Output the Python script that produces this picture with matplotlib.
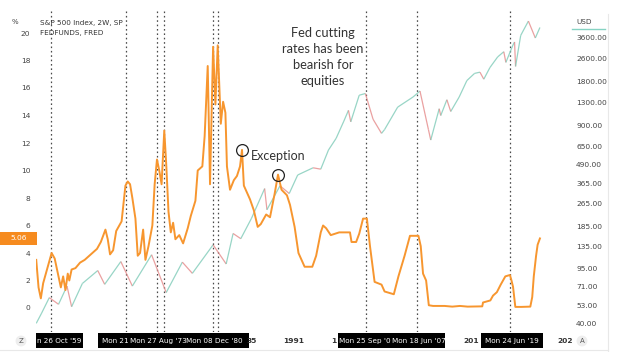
import matplotlib
matplotlib.use("Agg")
import matplotlib.pyplot as plt
from matplotlib.collections import LineCollection
from matplotlib.patches import Rectangle
from matplotlib.lines import Line2D

# ---------------- data ----------------
fed_years = [1957.9, 1958.2, 1958.5, 1958.8, 1959.3, 1959.9, 1960.3, 1960.8, 1961.1, 1961.4,
             1961.7, 1962.0, 1962.2, 1962.5, 1963.0, 1963.6, 1964.2, 1965.0, 1965.8, 1966.3,
             1966.9, 1967.2, 1967.5, 1967.9, 1968.3, 1968.7, 1969.0, 1969.5, 1969.8, 1970.1,
             1970.4, 1970.8, 1971.1, 1971.4, 1971.8, 1972.1, 1972.5, 1973.0, 1973.3, 1973.6,
             1973.9, 1974.2, 1974.55, 1974.8, 1975.1, 1975.4, 1975.7, 1976.0, 1976.5, 1977.0,
             1977.6, 1978.0, 1978.6, 1978.9, 1979.5, 1979.8, 1979.9, 1980.2, 1980.5, 1980.9,
             1981.2, 1981.5, 1981.9, 1982.2, 1982.5, 1982.7, 1983.1, 1983.6, 1984.0, 1984.4,
             1984.66, 1984.9, 1985.3, 1985.7, 1986.2, 1986.7, 1987.1, 1987.8, 1988.3, 1988.9,
             1989.34, 1989.8, 1990.5, 1990.9, 1991.5, 1992.0, 1992.8, 1993.8, 1994.3, 1994.9,
             1995.2, 1995.6, 1996.2, 1997.3, 1998.7, 1998.9, 1999.5, 1999.9, 2000.4, 2000.9,
             2001.3, 2001.9, 2002.8, 2003.2, 2004.4, 2005.0, 2005.8, 2006.5, 2007.6, 2007.9,
             2008.2, 2008.6, 2008.95, 2009.5, 2011.0, 2012.0, 2013.0, 2014.0, 2015.9, 2016.0,
             2016.95, 2017.3, 2017.8, 2018.3, 2018.9, 2019.5, 2019.7, 2019.9, 2020.2, 2021.0,
             2022.15, 2022.4, 2022.6, 2022.9, 2023.1, 2023.4]
fed_rate = [3.5, 1.5, 0.7, 1.8, 2.8, 4.0, 3.6, 2.3, 1.5, 2.3,
            1.3, 2.5, 2.0, 2.8, 2.9, 3.3, 3.5, 3.9, 4.3, 4.8,
            5.7, 5.0, 3.9, 4.2, 5.6, 6.0, 6.3, 8.9, 9.2, 9.0,
            8.0, 6.5, 3.8, 4.0, 5.7, 3.5, 4.5, 6.0, 9.0, 10.8,
            10.0, 9.0, 12.9, 10.5, 7.0, 5.5, 6.2, 5.0, 5.3, 4.7,
            5.8, 6.7, 7.8, 10.0, 10.3, 12.5, 13.8, 17.6, 9.0, 19.0,
            14.8, 19.1, 13.4, 15.0, 14.2, 10.3, 8.6, 9.3, 9.6, 10.3,
            11.5, 8.9, 8.4, 7.9, 7.1, 5.9, 6.1, 6.8, 6.6, 8.3,
            9.7, 8.6, 8.2, 7.5, 5.9, 4.0, 3.0, 3.0, 3.8, 5.5,
            6.0, 5.8, 5.3, 5.5, 5.5, 4.8, 4.8, 5.4, 6.5, 6.5,
            4.5, 1.9, 1.7, 1.2, 1.0, 2.3, 3.8, 5.25, 5.25, 4.5,
            2.5, 2.0, 0.2, 0.15, 0.15, 0.1, 0.15, 0.1, 0.12, 0.4,
            0.55, 0.9, 1.15, 1.7, 2.3, 2.4, 2.0, 1.55, 0.08, 0.08,
            0.1, 0.8, 2.3, 3.8, 4.6, 5.06]

spx_years = [1957.9, 1958.6, 1959.6, 1960.8, 1961.9, 1962.5, 1963.9, 1965.9, 1966.8, 1968.9,
             1970.4, 1972.9, 1974.8, 1976.9, 1978.2, 1980.9, 1982.6, 1983.5, 1984.5, 1985.9,
             1987.6, 1987.9, 1989.6, 1990.8, 1991.9, 1993.9, 1994.9, 1995.9, 1996.9, 1997.9,
             1998.5, 1998.8, 1999.9, 2000.7, 2001.7, 2002.8, 2003.2, 2004.9, 2006.9, 2007.8,
             2008.9, 2009.2, 2010.3, 2010.5, 2011.3, 2011.8, 2012.9, 2013.9, 2014.9, 2015.6,
             2016.1, 2016.9, 2017.9, 2018.7, 2018.97, 2019.9, 2020.1, 2020.23, 2020.9, 2021.9,
             2022.8, 2023.4]
spx_close = [40, 47, 60, 54, 72, 52, 75, 92, 74, 106,
             72, 118, 65, 105, 88, 138, 102, 165, 152, 210,
             335, 240, 350, 310, 415, 465, 455, 615, 740, 970,
             1150, 960, 1460, 1500, 1000, 800, 850, 1210, 1420, 1560,
             850, 720, 1180, 1060, 1360, 1130, 1420, 1840, 2060, 2100,
             1880, 2260, 2670, 2900, 2450, 3230, 3380, 2300, 3750, 4700,
             3600, 4250]

cut_dates = [1959.82, 1969.55, 1973.65, 1974.55, 1980.93, 1981.58, 2000.73, 2007.46, 2019.48]

left_ticks = [0, 2, 4, 6, 8, 10, 12, 14, 16, 18, 20]
right_ticks = [40, 53, 71, 95, 135, 185, 265, 365, 490, 650, 900, 1300, 1800, 2600, 3600]

exception_points = [(1984.66, 11.5), (1989.34, 9.7)]

# ---------------- figure ----------------
W, H = 620, 352
fig = plt.figure(figsize=(6.2, 3.52), dpi=100)
fig.patch.set_facecolor("white")


def fx(x):
    return x / W


def fy(y):
    return 1 - y / H


L, R, T, B = 36, 565, 10, 332
ax = fig.add_axes([fx(L), fy(B), (R - L) / W, (B - T) / H])
ax2 = ax.twinx()

ax.set_xlim(1957.87, 2026.66)
ax.set_yscale("log")
ax.set_ylim(34.9, 5598)
ax.set_yticks(right_ticks)
ax.set_yticklabels([f"{v:.2f}" for v in right_ticks])
ax.yaxis.set_minor_locator(matplotlib.ticker.NullLocator())
ax.tick_params(axis="y", which="both", length=0, pad=8, labelsize=5.4, labelcolor="#444444",
               left=False, labelleft=False, right=True, labelright=True)
ax.set_xticks([])
for s in ax.spines.values():
    s.set_visible(False)

# S&P 500 line coloured by direction
segs, cols = [], []
for i in range(len(spx_years) - 1):
    segs.append([(spx_years[i], spx_close[i]), (spx_years[i + 1], spx_close[i + 1])])
    cols.append("#7fcbb8" if spx_close[i + 1] >= spx_close[i] else "#e58a8a")
lc = LineCollection(segs, colors=cols, linewidths=0.9, alpha=0.8, zorder=2)
ax.add_collection(lc)

for d in cut_dates:
    ax.axvline(d, color="#4a4a4a", lw=0.9, ls=(0, (1.3, 2.2)), zorder=1)

ax2.set_ylim((308 - B) / 13.75, (308 - T) / 13.75)
ax2.set_yticks(left_ticks)
ax2.tick_params(axis="y", length=0, pad=4, labelsize=5.4, labelcolor="#444444",
                left=True, labelleft=True, right=False, labelright=False)
ax2.set_xticks([])
for s in ax2.spines.values():
    s.set_visible(False)
ax2.plot(fed_years, fed_rate, color="#F7962F", lw=1.4, zorder=3)

for (xx, yy) in exception_points:
    ax2.plot([xx], [yy], marker="o", ms=8.5, mfc="none", mec="#222222", mew=0.9, zorder=4)

# ---------------- texts ----------------
fig.text(fx(15), fy(22), "%", fontsize=5, color="#444444", ha="center", va="center")
fig.text(fx(40), fy(23), "S&P 500 Index, 2W, SP", fontsize=5.2, color="#333333", va="center")
fig.text(fx(40), fy(33), "FEDFUNDS, FRED", fontsize=5.2, color="#333333", va="center")

fig.text(fx(576), fy(22), "USD", fontsize=5.2, color="#444444", va="center")
fig.add_artist(Line2D([fx(572), fx(605)], [fy(29), fy(29)], color="#86d3c3", lw=1))

fig.text(fx(323), fy(57), "Fed cutting\nrates has been\nbearish for\nequities", fontsize=9.3,
         family="Lato", color="#333333", ha="center", va="center", linespacing=1.42)
fig.text(fx(251), fy(156), "Exception", fontsize=9, family="Lato", color="#333333", va="center")

fig.add_artist(Rectangle((fx(0), fy(245)), 37 / W, 13 / H, transform=fig.transFigure,
                         facecolor="#F68B1F", edgecolor="none"))
fig.text(fx(18.5), fy(238.5), "5.06", fontsize=5.4, color="white", ha="center", va="center")

# bottom date boxes
boxes = [(36, 83), (98, 249), (338, 445), (481, 543)]
for x0, x1 in boxes:
    fig.add_artist(Rectangle((fx(x0), fy(348)), (x1 - x0) / W, 15 / H, transform=fig.transFigure,
                             facecolor="black", edgecolor="none"))
box_labels = [(59, "n 26 Oct '59"), (115, "Mon 21"), (158, "Mon 27 Aug '73"), (214, "Mon 08 Dec '80"),
              (365, "Mon 25 Sep '0"), (419, "Mon 18 Jun '07"), (512, "Mon 24 Jun '19")]
for xx, t in box_labels:
    fig.text(fx(xx), fy(341), t, fontsize=5.2, color="white", ha="center", va="center")
for xx, t in [(252, "35"), (294, "1991"), (334, "1"), (471, "201"), (565, "202")]:
    fig.text(fx(xx), fy(341), t, fontsize=5.4, color="#333333", ha="center", va="center",
             fontweight="bold")
for xx, t in [(21, "Z"), (582, "A")]:
    fig.text(fx(xx), fy(341), t, fontsize=5, color="#555555", ha="center", va="center",
             bbox=dict(boxstyle="circle,pad=0.35", fc="#eeeeee", ec="none"))

fig.add_artist(Line2D([fx(608), fx(608)], [fy(14), fy(352)], color="#e8e8e8", lw=0.8))
fig.add_artist(Line2D([fx(0), fx(608)], [fy(350), fy(350)], color="#e8e8e8", lw=0.8))

fig.savefig("out.png", dpi=100)
